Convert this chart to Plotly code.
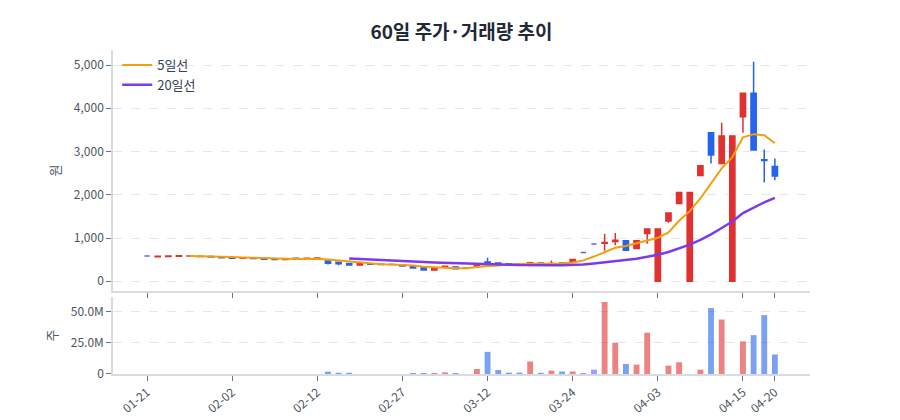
import plotly.graph_objects as go
import pandas as pd

dates = ["01-21","01-22","01-23","01-26","01-27","01-28","01-29","01-30",
         "02-02","02-03","02-04","02-05","02-06","02-09","02-10","02-11","02-12","02-13",
         "02-19","02-20","02-23","02-24","02-25","02-26","02-27",
         "03-03","03-04","03-05","03-06","03-09","03-10","03-11","03-12","03-13",
         "03-16","03-17","03-18","03-19","03-20","03-23","03-24","03-25","03-26","03-27",
         "03-30","03-31","04-01","04-02","04-03","04-06","04-07","04-08","04-09","04-10",
         "04-13","04-14","04-15","04-16","04-17","04-20"]

open_ = [585, 565, 572, 580, 584, 580, 575, 555, 545, 532, 538, 525, 515, 502, 530, 520, 530, 470, 440, 409,
         375, 398, 392, 388, 380, 340, 310, 260, 335, 330, 305, 355, 445, 425, 405, 380, 395, 420, 405, 425,
         440, 665, 860, 880, 918, 935, 760, 1104, 0, 1396, 1799, 0, 2447, 3433, 2724, 0, 3803, 4345, 2810, 2655]
high_ = [585, 580, 586, 592, 592, 584, 578, 558, 548, 540, 540, 527, 517, 518, 532, 532, 545, 480, 456, 412,
         410, 402, 396, 392, 382, 342, 312, 302, 360, 335, 318, 410, 545, 432, 408, 385, 450, 422, 480, 440,
         512, 665, 860, 1100, 1118, 935, 940, 1211, 1211, 1581, 2053, 2053, 2669, 3433, 3664, 3356, 4345, 5076, 3048, 2840]
low_ = [585, 562, 570, 578, 582, 572, 560, 542, 530, 530, 522, 508, 490, 500, 518, 518, 528, 390, 370, 370,
        372, 392, 386, 383, 347, 300, 255, 255, 330, 270, 300, 352, 405, 410, 396, 368, 392, 412, 402, 412,
        435, 665, 860, 705, 833, 715, 757, 870, 0, 1350, 1790, 0, 2440, 2724, 2724, 0, 3433, 3032, 2285, 2338]
close_ = [585, 578, 583, 588, 586, 575, 562, 545, 532, 538, 525, 510, 502, 515, 520, 530, 540, 415, 405, 375,
          405, 395, 390, 385, 350, 305, 260, 300, 345, 290, 310, 405, 410, 415, 400, 372, 430, 415, 412, 415,
          505, 665, 860, 895, 949, 715, 935, 1211, 1211, 1581, 2053, 2053, 2669, 2917, 3356, 3356, 4345, 3032, 2795, 2431]
volume = [0, 0, 0, 0, 0, 0, 0, 0, 0, 0, 0, 0, 0, 0, 0, 0, 0, 1.9, 1.0, 1.0,
          0, 0, 0, 0, 0, 0.3, 0.3, 0.3, 1.3, 0.5, 0, 4.0, 17.7, 3.2, 1.1, 1.1, 10.0, 1.0, 2.7, 2.0,
          2.0, 0.3, 3.5, 57.5, 25.0, 8.0, 7.5, 33.0, 0, 6.7, 9.4, 0, 3.5, 52.7, 43.5, 0, 26.0, 31.0, 47.0, 15.6]

tick_labels = ["01-21","02-02","02-12","02-27","03-12","03-24","04-03","04-15","04-20"]

RED = "#e03131"
BLUE = "#2563eb"
FLAT = "#5b5ff0"
FONT = "Noto Sans CJK KR"

df = pd.DataFrame({"d": dates, "o": open_, "h": high_, "l": low_, "c": close_, "v": [x * 1e6 for x in volume]})
ma5 = df["c"].rolling(5).mean()
ma20 = df["c"].rolling(20).mean()
flat = df["o"] == df["c"]

def masked(col, keep):
    return [v if k else None for v, k in zip(df[col], keep)]

fig = go.Figure()
fig.add_trace(go.Candlestick(
    x=df["d"], open=masked("o", ~flat), high=masked("h", ~flat), low=masked("l", ~flat), close=masked("c", ~flat),
    increasing=dict(line=dict(color=RED, width=1.5), fillcolor=RED),
    decreasing=dict(line=dict(color=BLUE, width=1.5), fillcolor=BLUE),
    showlegend=False, xaxis="x", yaxis="y"))
fig.add_trace(go.Candlestick(
    x=df["d"][flat], open=df["o"][flat], high=df["h"][flat], low=df["l"][flat], close=df["c"][flat],
    increasing=dict(line=dict(color=FLAT, width=1.5), fillcolor=FLAT),
    decreasing=dict(line=dict(color=FLAT, width=1.5), fillcolor=FLAT),
    showlegend=False, xaxis="x", yaxis="y"))
fig.add_trace(go.Scatter(x=df["d"], y=ma5, mode="lines", name="5일선",
                         line=dict(color="#f59e0b", width=2), xaxis="x", yaxis="y"))
fig.add_trace(go.Scatter(x=df["d"], y=ma20, mode="lines", name="20일선",
                         line=dict(color="#7c3aed", width=2.5), xaxis="x", yaxis="y"))

vcol = [FLAT if o == c else (RED if c > o else BLUE) for o, c in zip(df["o"], df["c"])]
fig.add_trace(go.Bar(x=df["d"], y=df["v"], marker=dict(color=vcol, line=dict(width=0)), opacity=0.6,
                     width=0.55, showlegend=False, xaxis="x2", yaxis="y2"))

axis_common = dict(showline=True, linecolor="#d7dbe2", linewidth=1.5, ticks="outside", ticklen=5,
                   tickcolor="#6b7280", automargin=False,
                   tickfont=dict(size=12, color="#4b5563", family=FONT))

fig.update_layout(
    width=900, height=420,
    margin=dict(l=113, r=90, t=50, b=46, autoexpand=False),
    paper_bgcolor="white", plot_bgcolor="white",
    font=dict(family=FONT, color="#374151"),
    title=dict(text="<b>60일 주가·거래량 추이</b>", x=0.5, xref="paper", y=0.924, yref="container",
               xanchor="center", yanchor="middle",
               font=dict(size=19, color="#1f2937", family=FONT)),
    showlegend=True,
    legend=dict(x=0.006, y=1.0, xanchor="left", yanchor="top", bgcolor="rgba(255,255,255,0)",
                font=dict(size=13, color="#374151", family=FONT), itemwidth=30, tracegroupgap=2),
    xaxis=dict(type="category", categoryorder="array", categoryarray=dates, range=[-3.2, 62.3],
               tickvals=tick_labels, showticklabels=False, showgrid=False, anchor="y",
               rangeslider=dict(visible=False), **axis_common),
    xaxis2=dict(type="category", categoryorder="array", categoryarray=dates, range=[-3.2, 62.3],
                matches="x", tickvals=tick_labels, ticktext=tick_labels, tickangle=-40,
                showgrid=False, anchor="y2", **axis_common),
    yaxis=dict(domain=[0.2562, 1.0], range=[-225, 5347], tickvals=[0, 1000, 2000, 3000, 4000, 5000],
               tickformat=",", showgrid=True, gridcolor="#e5e7eb", griddash="dash", zeroline=False,
               title=dict(text="원", font=dict(size=13, color="#4b5563", family=FONT), standoff=10),
               anchor="x", **axis_common),
    yaxis2=dict(domain=[0.0, 0.2377], range=[0, 61.5e6], tickvals=[0, 25e6, 50e6],
                ticktext=["0", "25.0M", "50.0M"], showgrid=True, gridcolor="#e5e7eb", griddash="dash",
                zeroline=False,
                title=dict(text="주", font=dict(size=13, color="#4b5563", family=FONT), standoff=10),
                anchor="x2", **axis_common),
    bargap=0.45,
)

fig.write_html("out.html")
